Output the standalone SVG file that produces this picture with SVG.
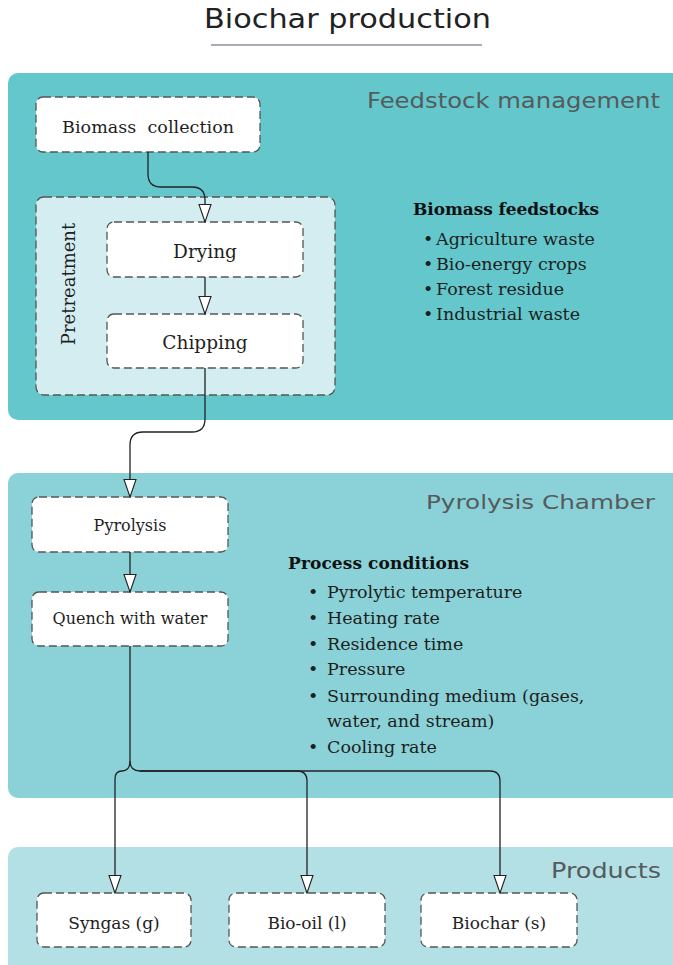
<svg xmlns="http://www.w3.org/2000/svg" width="673" height="965" viewBox="0 0 673 965">
<style>
.panel{stroke:none}
.node{fill:#ffffff;stroke:#555;stroke-width:1.3;stroke-dasharray:8 4}
.lbl{font-family:"DejaVu Serif","Liberation Serif",serif;fill:#1e1e1e;text-anchor:middle}
.sec{font-family:"DejaVu Sans","Liberation Sans",sans-serif;fill:#555b5d}
.body{font-family:"DejaVu Serif","Liberation Serif",serif;fill:#1e1e1e;font-size:17.5px}
.hdr{font-family:"DejaVu Serif","Liberation Serif",serif;fill:#111;font-size:17px;font-weight:bold}
.conn{fill:none;stroke:#222;stroke-width:1.3}
</style>
<defs>
<marker id="arr" viewBox="0 -7 19 14" refX="18" refY="0" markerWidth="19" markerHeight="14" markerUnits="userSpaceOnUse" orient="auto">
<path d="M0.5,-6 L18,0 L0.5,6 z" fill="#ffffff" stroke="#222" stroke-width="1.1"/>
</marker>
</defs>
<rect width="673" height="965" fill="#ffffff"/>
<g id="title">
<text x="204" y="28" font-family="DejaVu Sans, Liberation Sans, sans-serif" font-size="26" fill="#222" textLength="287" lengthAdjust="spacingAndGlyphs">Biochar production</text>
<line x1="211" y1="45" x2="482" y2="45" stroke="#a9adba" stroke-width="2"/>
</g>
<g id="feedstock-management">
<rect class="panel" x="8" y="73" width="690" height="347" rx="10" fill="#63c7cc"/>
<text class="sec" x="367" y="108" font-size="21" textLength="293" lengthAdjust="spacingAndGlyphs">Feedstock management</text>
</g>
<g id="pyrolysis-chamber">
<rect class="panel" x="8" y="473" width="690" height="325" rx="10" fill="#8ad2d7"/>
<text class="sec" x="426" y="509" font-size="20" textLength="229" lengthAdjust="spacingAndGlyphs">Pyrolysis Chamber</text>
</g>
<g id="products">
<rect class="panel" x="8" y="847" width="690" height="140" rx="10" fill="#b3e0e4"/>
<text class="sec" x="551" y="878" font-size="21" textLength="110" lengthAdjust="spacingAndGlyphs">Products</text>
</g>
<g id="pretreatment">
<rect x="36" y="197" width="299" height="198" rx="8" fill="#d4edf0" stroke="#555" stroke-width="1.3" stroke-dasharray="8 4"/>
<text class="lbl" transform="translate(75,284) rotate(-90)" font-size="18">Pretreatment</text>
</g>
<g id="biomass-collection">
<rect class="node" x="36" y="97" width="224" height="55" rx="7"/>
<text class="lbl" x="148" y="133" font-size="17.5" xml:space="preserve" textLength="172">Biomass  collection</text>
</g>
<g id="drying">
<rect class="node" x="107" y="222" width="196" height="55" rx="7"/>
<text class="lbl" x="205" y="258" font-size="18.5">Drying</text>
</g>
<g id="chipping">
<rect class="node" x="107" y="314" width="196" height="54" rx="7"/>
<text class="lbl" x="205" y="349" font-size="18.5">Chipping</text>
</g>
<g id="biomass-feedstocks">
<text class="hdr" x="413" y="215" textLength="186">Biomass feedstocks</text>
<text class="body" x="423" y="245">•</text><text class="body" x="436" y="245">Agriculture waste</text>
<text class="body" x="423" y="270">•</text><text class="body" x="436" y="270">Bio-energy crops</text>
<text class="body" x="423" y="295">•</text><text class="body" x="436" y="295">Forest residue</text>
<text class="body" x="423" y="320">•</text><text class="body" x="436" y="320">Industrial waste</text>
</g>
<g id="pyrolysis">
<rect class="node" x="32" y="497" width="196" height="55" rx="7"/>
<text class="lbl" x="130" y="531" font-size="16">Pyrolysis</text>
</g>
<g id="quench">
<rect class="node" x="32" y="592" width="196" height="54" rx="7"/>
<text class="lbl" x="130" y="624" font-size="16">Quench with water</text>
</g>
<g id="process-conditions">
<text class="hdr" x="288" y="569" textLength="181">Process conditions</text>
<text class="body" x="308" y="598">•</text><text class="body" x="327" y="598">Pyrolytic temperature</text>
<text class="body" x="308" y="624">•</text><text class="body" x="327" y="624">Heating rate</text>
<text class="body" x="308" y="650">•</text><text class="body" x="327" y="650">Residence time</text>
<text class="body" x="308" y="675">•</text><text class="body" x="327" y="675">Pressure</text>
<text class="body" x="308" y="702">•</text><text class="body" x="327" y="702">Surrounding medium (gases,</text>
<text class="body" x="327" y="727">water, and stream)</text>
<text class="body" x="308" y="753">•</text><text class="body" x="327" y="753">Cooling rate</text>
</g>
<g id="syngas">
<rect class="node" x="37" y="893" width="154" height="54" rx="7"/>
<text class="lbl" x="114" y="929" font-size="17">Syngas (g)</text>
</g>
<g id="bio-oil">
<rect class="node" x="229" y="893" width="156" height="54" rx="7"/>
<text class="lbl" x="307" y="929" font-size="17">Bio-oil (l)</text>
</g>
<g id="biochar">
<rect class="node" x="421" y="893" width="156" height="54" rx="7"/>
<text class="lbl" x="499" y="929" font-size="17">Biochar (s)</text>
</g>
<g id="connectors">
<path class="conn" d="M148,152 V174 Q148,187 161,187 H192 Q205,187 205,200 V222" marker-end="url(#arr)"/>
<path class="conn" d="M205,277 V314" marker-end="url(#arr)"/>
<path class="conn" d="M205,368 V419 Q205,432 192,432 H143 Q130,432 130,445 V497" marker-end="url(#arr)"/>
<path class="conn" d="M130,552 V592" marker-end="url(#arr)"/>
<path class="conn" d="M130,646 V761 Q130,771 122,771 Q115,771 115,779 V893" marker-end="url(#arr)"/>
<path class="conn" d="M130,761 Q130,771 140,771 H297 Q307,771 307,781 V893" marker-end="url(#arr)"/>
<path class="conn" d="M140,771 H490 Q500,771 500,781 V893" marker-end="url(#arr)"/>
</g>
</svg>
